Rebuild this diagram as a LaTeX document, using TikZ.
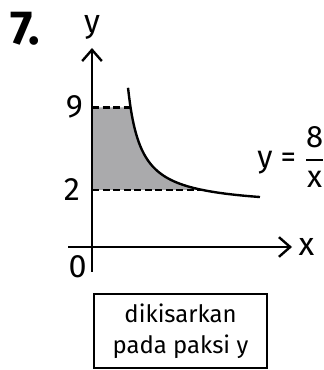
\documentclass[tikz,border=0pt]{standalone}
\usepackage{fontspec}
\usepackage{amsmath}
\setmainfont{Fira Sans}
\usetikzlibrary{arrows.meta}
\definecolor{regiongray}{HTML}{AAAAAC}

\begin{document}
\begin{tikzpicture}[line width=1.7pt,
    handtext/.style={font=\fontsize{23}{27}\selectfont},
    axis/.style={-{Straight Barb[length=8pt,width=14pt]}},
    guide/.style={dash pattern=on 5pt off 2.5pt}]
    \useasboundingbox (-2.3,-3.075) rectangle (5.775,6.175);
    % shaded region between y = 2 and y = 9
    \fill[regiongray] (0,1.425) -- (0,3.49) -- (0.963,3.49)
        -- plot[domain=0.963:2.766, smooth, samples=40] (\x, {0.98+0.975/(\x-0.575)})
        -- (2.766,1.425) -- cycle;
    \coordinate (y9) at (0,3.49);
    \coordinate (c9) at (0.963,3.49);
    \coordinate (y2) at (0,1.425);
    \coordinate (c2) at (2.766,1.425);
    \draw[guide] (y9) -- (c9);
    \draw[guide] (y2) -- (c2);
    % axes
    \coordinate (xstart) at (-0.6,0);
    \coordinate (xend) at (5,0);
    \coordinate (ystart) at (0,-0.625);
    \coordinate (yend) at (0,4.975);
    \draw[axis] (xstart) -- (xend);
    \draw[axis] (ystart) -- (yend);
    % curve
    \draw[domain=0.9:4.2, smooth, samples=60] plot (\x, {0.98+0.975/(\x-0.575)});
    \node[font=\fontsize{34}{38}\selectfont\bfseries] (num) at (-1.675,5.45) {7.};
    \node[handtext] (ylab) at (0,5.5) {y};
    \node[handtext] (xlab) at (5.36,0) {x};
    \node[handtext] (nine) at (-0.44,3.5) {9};
    \node[handtext] (two) at (-0.5,1.425) {2};
    \node[handtext] (zero) at (-0.36,-0.5) {0};
    \node[font=\fontsize{22}{26}\selectfont, anchor=east, inner sep=0pt] (eq) at (5.85,2.25) {y = $\genfrac{}{}{1.4pt}{0}{\mbox{8}}{\mbox{x}}$};
    \node[draw, line width=1.7pt, minimum width=4.325cm, minimum height=1.85cm, align=center,
        font=\fontsize{17}{22}\selectfont] (note) at (2.2125,-2.1) {dikisarkan\\pada paksi y};
\end{tikzpicture}
\end{document}
